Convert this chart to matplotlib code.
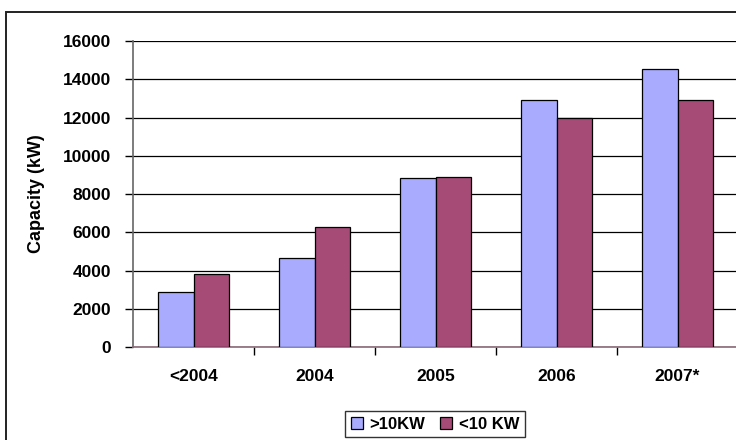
import matplotlib
matplotlib.use("Agg")
import matplotlib.pyplot as plt
import numpy as np
from matplotlib.patches import Rectangle

plt.rcParams["font.family"] = ["Liberation Sans", "DejaVu Sans"]
plt.rcParams["font.weight"] = "bold"

# -- Data ----------------------------------------------------------------------
years = ["<2004", "2004", "2005", "2006", "2007*"]
above_10kw = [2850, 4650, 8850, 12900, 14550]
below_10kw = [3800, 6300, 8900, 12000, 12900]

BLUE = "#A9ABFF"
PLUM = "#A64A76"

fig = plt.figure(figsize=(7.36, 4.40), dpi=100)

# outer chart frame (runs off the right / bottom edge)
fig.patches.append(Rectangle((6 / 736, -0.05), 1.1, (440 - 12) / 440 + 0.05,
                             transform=fig.transFigure, fill=False,
                             edgecolor="#222222", linewidth=1.4, zorder=0))

ax = fig.add_axes([133 / 736, (440 - 347) / 440, 605 / 736, 306 / 440])

x = np.arange(len(years))
w = 0.29
ax.bar(x - w / 2, above_10kw, w, color=BLUE, edgecolor="black",
       linewidth=0.9, label=">10KW", zorder=3)
ax.bar(x + w / 2, below_10kw, w, color=PLUM, edgecolor="black",
       linewidth=0.9, label="<10 KW", zorder=3)

ax.set_xlim(-0.5, len(years) - 0.5)
ax.set_ylim(0, 16000)
ax.set_yticks(range(0, 16001, 2000))
ax.set_yticklabels([str(v) for v in range(0, 16001, 2000)], fontsize=12.5,
                   fontweight="bold")
ax.yaxis.grid(True, color="black", linewidth=0.9, zorder=0)
ax.set_axisbelow(True)

# category labels centred, tick marks between groups
ax.set_xticks(x)
ax.set_xticklabels(years, fontsize=12.5, fontweight="bold")
ax.tick_params(axis="x", length=0, pad=16)
ax.set_xticks(np.arange(0.5, len(years) - 0.5, 1), minor=True)
ax.tick_params(axis="x", which="minor", length=6, width=1, color="black",
               direction="out")
ax.tick_params(axis="y", length=6, width=1, color="black", pad=10)

for side in ("top", "right"):
    ax.spines[side].set_visible(False)
ax.spines["left"].set_color("#666666")
ax.spines["left"].set_linewidth(1.2)
ax.spines["bottom"].set_color("#8a6a78")
ax.spines["bottom"].set_linewidth(1.2)

ax.set_ylabel("Capacity (kW)", fontsize=13, fontweight="bold")
ax.yaxis.set_label_coords(-88 / 605, 0.5)

leg = fig.legend(loc="center", bbox_to_anchor=(435 / 736, (440 - 424) / 440),
                 ncol=2, fontsize=12, frameon=True, fancybox=False,
                 handlelength=0.7, handleheight=0.7, handletextpad=0.4,
                 columnspacing=0.9, borderpad=0.35)
leg.get_frame().set_edgecolor("black")
leg.get_frame().set_linewidth(1.0)
for t in leg.get_texts():
    t.set_fontweight("bold")

fig.savefig("out.png", dpi=100)
